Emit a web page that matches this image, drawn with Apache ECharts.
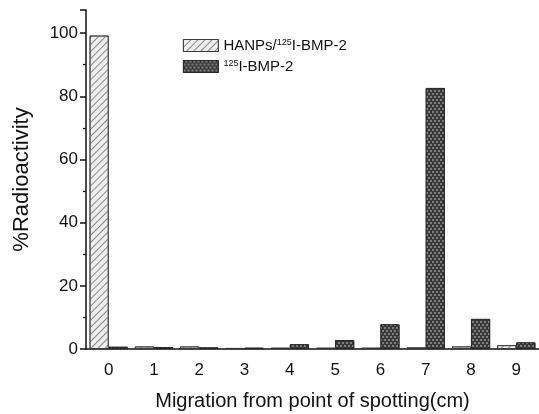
<!DOCTYPE html>
<html>
<head>
<meta charset="utf-8">
<script src="https://cdn.jsdelivr.net/npm/echarts@6/dist/echarts.min.js"></script>
<style>
  html, body { margin: 0; padding: 0; background: #fff; }
  #chart { width: 539px; height: 414px; }
</style>
</head>
<body>
<div id="chart"></div>
<script>
// migration distance (cm)
const categories = ['0', '1', '2', '3', '4', '5', '6', '7', '8', '9'];
// % radioactivity
const hanpValues = [99.2, 0.8, 0.8, 0.3, 0.4, 0.4, 0.4, 0.5, 0.8, 1.2];
const bmpValues = [0.7, 0.6, 0.5, 0.4, 1.5, 2.8, 7.8, 82.6, 9.5, 2.1];
const yTicks = [0, 20, 40, 60, 80, 100];

const chart = echarts.init(document.getElementById('chart'));

const font = 'Liberation Sans, Arial, sans-serif';

const option = {
  animation: false,
  textStyle: { fontFamily: font },
  legend: {
    left: 183,
    top: 38,
    padding: 0,
    orient: 'vertical',
    itemWidth: 35,
    itemHeight: 12,
    itemGap: 6,
    icon: 'rect',
    itemStyle: { borderWidth: 0.8 },
    data: ['hanp', 'bmp'],
    formatter: function (name) {
      return name === 'hanp'
        ? '{n|HANPs/}{s|125}{n|I-BMP-2}'
        : '{s|125}{n|I-BMP-2}';
    },
    textStyle: {
      rich: {
        n: { fontSize: 15, color: '#111', fontFamily: font, verticalAlign: 'bottom', lineHeight: 15 },
        s: { fontSize: 9, color: '#111', fontFamily: font, verticalAlign: 'top', lineHeight: 15, padding: [0, 0, 6, 0] }
      }
    }
  },
  grid: { left: 86, right: 0, top: 10, bottom: 65, outerBoundsMode: 'none' },
  xAxis: [
    {
      type: 'category',
      data: categories,
      axisLine: { lineStyle: { color: '#111', width: 1.5 } },
      axisTick: { alignWithLabel: true, length: 7, lineStyle: { color: '#111', width: 1.5 } },
      axisLabel: { color: '#111', fontSize: 17, margin: 13 },
      name: 'Migration from point of spotting(cm)',
      nameLocation: 'middle',
      nameGap: 42,
      nameTextStyle: { color: '#111', fontSize: 20 }
    },
    {
      type: 'category',
      data: categories,
      position: 'bottom',
      axisLine: { show: false },
      axisTick: { length: 4, lineStyle: { color: '#111', width: 1.2 } },
      axisLabel: { show: false }
    }
  ],
  yAxis: {
    type: 'value',
    min: 0,
    max: 107.3,
    interval: 20,
    splitLine: { show: false },
    axisLine: { show: true, lineStyle: { color: '#111', width: 1.5 } },
    axisTick: { show: true, length: 6, lineStyle: { color: '#111', width: 1.5 } },
    minorTick: { show: true, splitNumber: 2, length: 3, lineStyle: { color: '#111', width: 1.2 } },
    axisLabel: {
      color: '#111', fontSize: 17, margin: 8,
      formatter: function (v) { return yTicks.indexOf(v) >= 0 ? String(v) : ''; }
    },
    name: '%Radioactivity',
    nameLocation: 'middle',
    nameGap: 53,
    nameTextStyle: { color: '#111', fontSize: 22 }
  },
  series: [
    {
      name: 'hanp',
      type: 'bar',
      data: hanpValues,
      barGap: '0%',
      barCategoryGap: '16%',
      itemStyle: {
        color: '#efefef',
        borderColor: '#333',
        borderWidth: 0.8,
        decal: {
          symbol: 'rect',
          symbolSize: 1,
          color: '#8a8a8a',
          dashArrayX: [1, 0],
          dashArrayY: [1, 4],
          rotation: -Math.PI / 4
        }
      }
    },
    {
      name: 'bmp',
      type: 'bar',
      data: bmpValues,
      itemStyle: {
        color: '#3a3a3a',
        borderColor: '#222',
        borderWidth: 0.8,
        decal: {
          symbol: 'rect',
          symbolSize: 1,
          color: '#7e7e7e',
          dashArrayX: [[2, 2], [0, 2, 2, 0]],
          dashArrayY: [2, 1],
          rotation: 0
        }
      }
    }
  ]
};

chart.setOption(option);
</script>
</body>
</html>
